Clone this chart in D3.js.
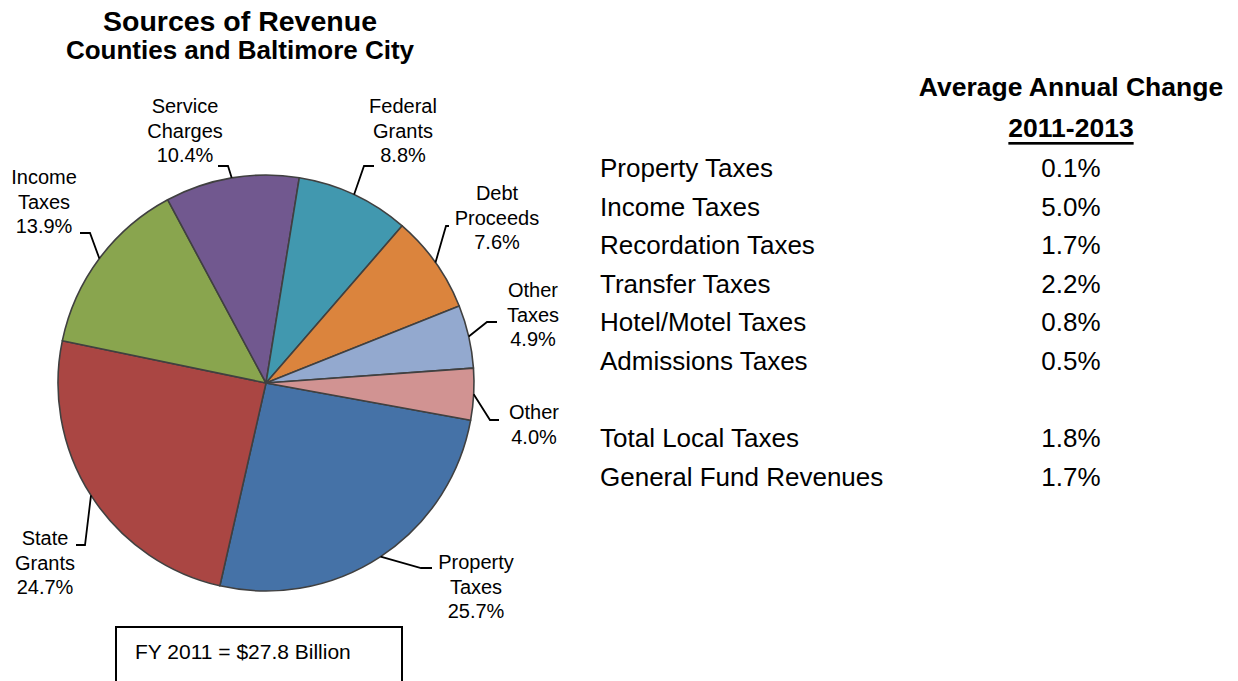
<!DOCTYPE html>
<html>
<head>
<meta charset="utf-8">
<script src="https://cdn.jsdelivr.net/npm/d3@7/dist/d3.min.js"></script>
<style>
  html, body { margin: 0; padding: 0; background: #ffffff; }
  svg { display: block; font-family: Arial, "Liberation Sans", Helvetica, sans-serif; }
</style>
</head>
<body>
<svg id="chart" width="1238" height="681"></svg>
<script>
// Revenue sources, share of FY 2011 total (%)
const categories = ["Property Taxes", "State Grants", "Income Taxes", "Service Charges",
                    "Federal Grants", "Debt Proceeds", "Other Taxes", "Other"];
const shares = [25.7, 24.7, 13.9, 10.4, 8.8, 7.6, 4.9, 4.0];
const sliceColors = ["#4572A7", "#AA4643", "#89A54E", "#71588F",
                     "#4198AF", "#DB843D", "#93A9CF", "#D19392"];

// Average annual change 2011-2013 (%)
const changeLabels = ["Property Taxes", "Income Taxes", "Recordation Taxes",
                      "Transfer Taxes", "Hotel/Motel Taxes", "Admissions Taxes"];
const changeValues = [0.1, 5.0, 1.7, 2.2, 0.8, 0.5];
const totalLabels = ["Total Local Taxes", "General Fund Revenues"];
const totalValues = [1.8, 1.7];

const titleLines = ["Sources of Revenue", "Counties and Baltimore City"];
const tableHeader = ["Average Annual Change", "2011-2013"];
const footnote = "FY 2011 = $27.8 Billion";

// Label placement for each slice: text centre, first line y, leader elbow and end
const labelLayout = [
  { x: 476, y: 562, elbow: [421, 568], end: [432, 568] },
  { x: 45,  y: 538, elbow: [85, 545],  end: [76, 545] },
  { x: 44,  y: 177, elbow: [90, 233],  end: [80, 233] },
  { x: 185, y: 106, elbow: [228, 166], end: [218, 166] },
  { x: 403, y: 106, elbow: [364, 166], end: [374, 166] },
  { x: 497, y: 193, elbow: [446, 226], end: [449, 226] },
  { x: 533, y: 290, elbow: [487, 322], end: [497, 322] },
  { x: 534, y: 412, elbow: [490, 420], end: [499, 420] }
];

const svg = d3.select("#chart");
const pct = v => d3.format(".1f")(v) + "%";

// Title
svg.append("text").attr("x", 240).attr("y", 31).attr("text-anchor", "middle")
  .attr("font-size", 28.5).attr("font-weight", "bold").text(titleLines[0]);
svg.append("text").attr("x", 240).attr("y", 59).attr("text-anchor", "middle")
  .attr("font-size", 26).attr("font-weight", "bold").text(titleLines[1]);

// Pie
const cx = 266, cy = 383, radius = 208;
const startAngle = 100.3 * Math.PI / 180;
const pie = d3.pie().sort(null).value(d => d)
  .startAngle(startAngle).endAngle(startAngle + 2 * Math.PI);
const arcs = pie(shares);
const arc = d3.arc().innerRadius(0).outerRadius(radius);
const edgeArc = d3.arc().innerRadius(radius).outerRadius(radius);

const g = svg.append("g").attr("transform", `translate(${cx},${cy})`);
g.selectAll("path.slice").data(arcs).join("path")
  .attr("class", "slice")
  .attr("d", arc)
  .attr("fill", (d, i) => sliceColors[i])
  .attr("stroke", "#404040")
  .attr("stroke-width", 1.6)
  .attr("stroke-linejoin", "round");

// Leader lines from the slice edge (mid-angle) to the labels
const line = d3.line();
svg.selectAll("path.leader").data(arcs).join("path")
  .attr("class", "leader")
  .attr("d", (d, i) => {
    const c = edgeArc.centroid(d);
    const L = labelLayout[i];
    return line([[cx + c[0], cy + c[1]], L.elbow, L.end]);
  })
  .attr("fill", "none").attr("stroke", "#000").attr("stroke-width", 1.8);

// Slice labels
const lineGap = 24.5;
arcs.forEach((d, i) => {
  const L = labelLayout[i];
  const lines = categories[i].split(" ").concat([pct(shares[i])]);
  const t = svg.append("text").attr("text-anchor", "middle").attr("font-size", 20).attr("fill", "#000");
  lines.forEach((s, k) => {
    t.append("tspan").attr("x", L.x).attr("y", L.y + k * lineGap)
      .attr("dominant-baseline", "central").text(s);
  });
});

// Footnote box
svg.append("rect").attr("x", 116).attr("y", 627).attr("width", 286).attr("height", 70)
  .attr("fill", "none").attr("stroke", "#000").attr("stroke-width", 2);
svg.append("text").attr("x", 135).attr("y", 651).attr("dominant-baseline", "central")
  .attr("font-size", 21).text(footnote);

// Table of average annual change
const valueX = 1071, labelX = 600;
svg.append("text").attr("x", valueX).attr("y", 87).attr("text-anchor", "middle")
  .attr("dominant-baseline", "central").attr("font-size", 26.5).attr("font-weight", "bold")
  .text(tableHeader[0]);
svg.append("text").attr("x", valueX).attr("y", 128).attr("text-anchor", "middle")
  .attr("dominant-baseline", "central").attr("font-size", 26.5).attr("font-weight", "bold")
  .attr("text-decoration", "underline").text(tableHeader[1]);

const rowY = d3.scaleLinear().domain([0, 1]).range([168, 206.6]);
const rows = changeLabels.map((l, i) => ({ label: l, value: changeValues[i], row: i }))
  .concat(totalLabels.map((l, i) => ({ label: l, value: totalValues[i], row: changeLabels.length + 1 + i })));

const rowG = svg.selectAll("g.row").data(rows).join("g").attr("class", "row");
rowG.append("text").attr("x", labelX).attr("y", d => rowY(d.row))
  .attr("dominant-baseline", "central").attr("font-size", 26).text(d => d.label);
rowG.append("text").attr("x", valueX).attr("y", d => rowY(d.row))
  .attr("text-anchor", "middle").attr("dominant-baseline", "central")
  .attr("font-size", 26).text(d => pct(d.value));
</script>
</body>
</html>
